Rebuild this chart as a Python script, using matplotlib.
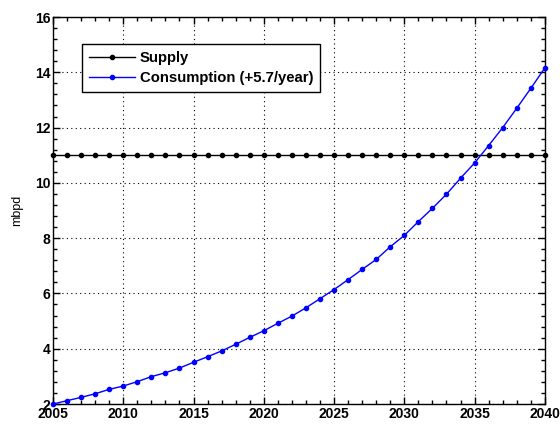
import matplotlib.pyplot as plt
from matplotlib.ticker import MultipleLocator

years = list(range(2005, 2041))
supply = [11.0] * len(years)
consumption = [2.00, 2.12, 2.24, 2.37, 2.53, 2.65, 2.81, 2.99, 3.13, 3.30,
               3.51, 3.71, 3.92, 4.16, 4.41, 4.65, 4.92, 5.18, 5.48, 5.81,
               6.14, 6.50, 6.87, 7.23, 7.69, 8.10, 8.60, 9.08, 9.59, 10.17,
               10.72, 11.35, 12.00, 12.70, 13.42, 14.16]

plt.rcParams['font.family'] = ['Liberation Sans', 'DejaVu Sans']

fig = plt.figure(figsize=(5.6, 4.25), dpi=100)
ax = fig.add_axes([0.0946, 0.0494, 0.8784, 0.9106])

ax.plot(years, supply, color='black', lw=1, marker='.', ms=6, label='Supply', clip_on=False, zorder=3)
ax.plot(years, consumption, color='#0000ff', lw=1, marker='.', ms=6,
        label='Consumption (+5.7/year)', clip_on=False, zorder=3)

ax.set_xlim(2005, 2040)
ax.set_ylim(2, 16)
ax.xaxis.set_major_locator(MultipleLocator(5))
ax.xaxis.set_minor_locator(MultipleLocator(1))
ax.yaxis.set_major_locator(MultipleLocator(2))
ax.yaxis.set_minor_locator(MultipleLocator(0.4))
ax.tick_params(which='both', direction='in', top=True, right=True, width=1)
ax.tick_params(which='major', length=5, labelsize=10, pad=2)
ax.tick_params(which='minor', length=3)
for lab in ax.get_xticklabels() + ax.get_yticklabels():
    lab.set_fontweight('bold')
ax.grid(True, which='major', color='black', linestyle=(0, (1, 3)), lw=0.8)
for s in ax.spines.values():
    s.set_linewidth(1)

ax.set_ylabel('mbpd', fontsize=9, labelpad=8)

leg = ax.legend(loc='upper left', bbox_to_anchor=(0.059, 0.930), borderaxespad=0,
                fancybox=False, edgecolor='black', framealpha=1,
                prop={'weight': 'bold', 'size': 10.7},
                handlelength=3.1, handletextpad=0.35, borderpad=0.45, labelspacing=0.45)
leg.get_frame().set_linewidth(1)

fig.savefig('out.png', dpi=100)
